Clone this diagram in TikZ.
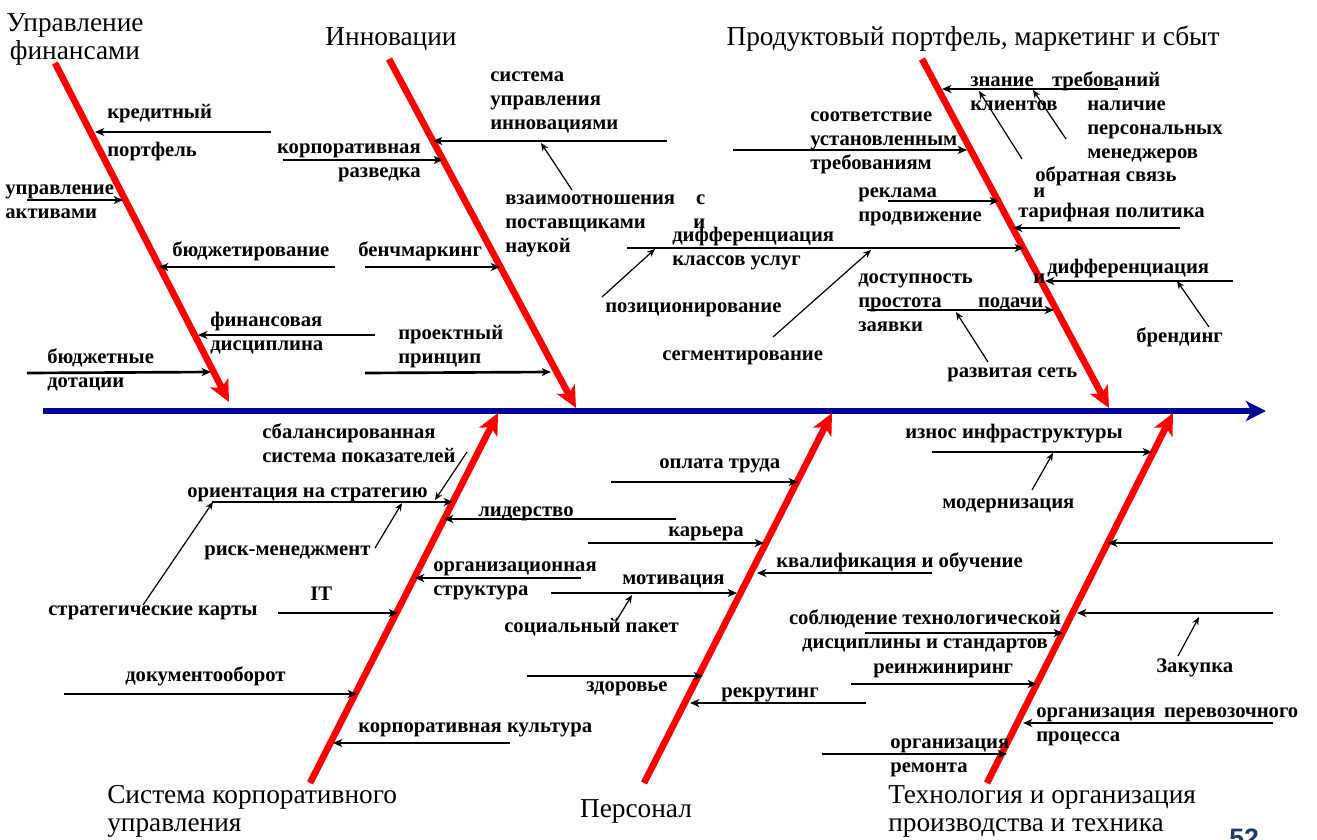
\documentclass[tikz,border=0pt]{standalone}
\usepackage{fontspec}
\setmainfont{Liberation Serif}
\setsansfont{Liberation Sans}
\usetikzlibrary{arrows.meta}
\definecolor{spineblue}{RGB}{0,0,150}
\definecolor{pagenum}{RGB}{31,56,100}
\tikzset{
  spine/.style={line width=4.5pt,spineblue,-{Stealth[length=15pt,width=15pt,inset=4pt]}},
  bone/.style={line width=5pt,red,-{Stealth[length=16pt,width=15pt,inset=4pt]}},
  cause/.style={line width=2pt,-{Stealth[length=7pt,width=6pt,inset=2pt]}},
  hint/.style={line width=0.9pt,-{Stealth[length=6pt,width=5pt,inset=2pt]}},
  lbl/.style={font=\bfseries\fontsize{15.5}{18}\selectfont,inner sep=0pt,anchor=base west,align=left},
  head/.style={font=\fontsize{20.5}{21}\selectfont,inner sep=0pt,anchor=base},
}
\begin{document}
\begin{tikzpicture}[x=0.75pt,y=-0.75pt]
\useasboundingbox (0,0) rectangle (1317,839);
% spine
\coordinate (tail) at (43,411);
\coordinate (effect) at (1266,411);
\draw[spine] (tail) -- (effect);
% bones
\coordinate (fin-s) at (55,63);    \coordinate (fin-e) at (229,402);
\coordinate (inn-s) at (389,59);   \coordinate (inn-e) at (576,408);
\coordinate (prd-s) at (922,59);   \coordinate (prd-e) at (1109,408);
\coordinate (cgv-s) at (310,783);  \coordinate (cgv-e) at (498,413);
\coordinate (prs-s) at (644,783);  \coordinate (prs-e) at (832,413);
\coordinate (tch-s) at (987,783);  \coordinate (tch-e) at (1173,413);
\foreach \b in {fin,inn,prd,cgv,prs,tch}
  \draw[bone] (\b-s) -- (\b-e);
% headings (multi-line: base = last line)
\node[head,align=center] (fin) at (75,59) {Управление\\финансами};
\node[head] (inn) at (391,45) {Инновации};
\node[head] (prd) at (973,45) {Продуктовый портфель, маркетинг и сбыт};
\node[head,anchor=base west,align=left] (cgv) at (107,831) {Система корпоративного\\управления};
\node[head] (prs) at (636,817) {Персонал};
\node[head,anchor=base west,align=left] (tch) at (888,831) {Технология и организация\\производства и техника};
\node[font=\sffamily\bfseries\fontsize{20}{20}\selectfont,pagenum,inner sep=0pt,anchor=base west] (pg) at (1229,847) {52};

% finance
\draw[cause] (271,132) coordinate (kred-s) -- (95,132) coordinate (kred-e);
\node[lbl] (kred1) at (107,118) {кредитный};
\node[lbl] (kred2) at (107,156) {портфель};
\draw[cause] (27,200) coordinate (act-s) -- (123,200) coordinate (act-e);
\node[lbl] (act) at (5,218) {управление\\активами};
\draw[cause] (335,267) coordinate (bud-s) -- (159,267) coordinate (bud-e);
\node[lbl] (bud) at (172,256) {бюджетирование};
\draw[cause] (375,335) coordinate (fdis-s) -- (198,335) coordinate (fdis-e);
\node[lbl] (fdis) at (210,350) {финансовая\\дисциплина};
\draw[cause] (27,373) coordinate (dot-s) -- (211,372) coordinate (dot-e);
\node[lbl] (dot) at (47,387) {бюджетные\\дотации};

% innovations
\draw[cause] (667,141) coordinate (sys-s) -- (433,141) coordinate (sys-e);
\node[lbl] (sys) at (490,129) {система\\управления\\инновациями};
\draw[cause] (283,160) coordinate (razv-s) -- (443,160) coordinate (razv-e);
\node[lbl,anchor=base east,align=right] (razv) at (421,177) {корпоративная\\разведка};
\draw[cause] (365,267) coordinate (bm-s) -- (500,267) coordinate (bm-e);
\node[lbl] (bm) at (358,256) {бенчмаркинг};
\draw[cause] (365,373) coordinate (prj-s) -- (551,372) coordinate (prj-e);
\node[lbl] (prj) at (398,363) {проектный\\принцип};
\node[lbl,text width=200*0.75pt] (vz) at (505,204) {взаимоотношения\hfill с\\поставщиками\hfill и\\наукой};
\draw[hint] (572,190) coordinate (vz-p) -- (541,143);

% product, marketing
\draw[cause] (1118,89) coordinate (zn-s) -- (942,89) coordinate (zn-e);
\node[lbl,text width=190*0.75pt] (zn) at (970,86) {знание\hfill требований\\клиентов};
\node[lbl] (nal) at (1087,158) {наличие\\персональных\\менеджеров};
\node[lbl] (obr) at (1035,181) {обратная связь};
\draw[hint] (1022,159) -- (979,91);
\draw[hint] (1066,139) -- (1033,90);
\draw[cause] (733,150) coordinate (soo-s) -- (967,150) coordinate (soo-e);
\node[lbl] (soo) at (810,169) {соответствие\\установленным\\требованиям};
\draw[cause] (888,201) coordinate (rek-s) -- (999,201) coordinate (rek-e);
\node[lbl] (rek) at (858,221) {реклама\\продвижение};
\node[lbl] (and1) at (1033,197) {и};
\node[lbl] (tar) at (1018,217) {тарифная политика};
\draw[cause] (1180,228) coordinate (tar-s) -- (1013,228) coordinate (tar-e);
\draw[cause] (627,248) coordinate (dif-s) -- (1024,248) coordinate (dif-e);
\node[lbl] (dif) at (672,265) {дифференциация\\классов услуг};
\node[lbl] (pos) at (605,312) {позиционирование};
\draw[hint] (602,297) -- (655,249);
\node[lbl] (seg) at (662,360) {сегментирование};
\draw[hint] (773,337) -- (871,250);
\draw[cause] (867,310) coordinate (dost-s) -- (1054,310) coordinate (dost-e);
\node[lbl,text width=185*0.75pt] (dost) at (858,283) {доступность\\простота\hfill подачи\\заявки};
\node[lbl] (set) at (947,377) {развитая сеть};
\draw[hint] (988,362) -- (956,312);
\node[lbl] (and2) at (1033,283) {и};
\node[lbl] (dif2) at (1047,273) {дифференциация};
\draw[cause] (1233,281) coordinate (dif2-s) -- (1045,281) coordinate (dif2-e);
\node[lbl] (brd) at (1136,342) {брендинг};
\draw[hint] (1209,327) -- (1177,281);

% corporate governance
\node[lbl] (bsc) at (262,462) {сбалансированная\\система показателей};
\draw[hint] (467,452) -- (435,500);
\draw[cause] (212,502) coordinate (ori-s) -- (453,502) coordinate (ori-e);
\node[lbl] (ori) at (187,497) {ориентация на стратегию};
\node[lbl] (risk) at (204,555) {риск-менеджмент};
\draw[hint] (375,548) -- (402,503);
\node[lbl] (smap) at (48,615) {стратегические карты};
\draw[hint] (143,605) -- (213,502);
\draw[cause] (676,519) coordinate (lid-s) -- (444,519) coordinate (lid-e);
\node[lbl] (lid) at (478,516) {лидерство};
\draw[cause] (581,578) coordinate (ors-s) -- (415,578) coordinate (ors-e);
\node[lbl] (ors) at (433,595) {организационная\\структура};
\draw[cause] (278,613) coordinate (it-s) -- (398,613) coordinate (it-e);
\node[lbl] (it) at (310,600) {IT};
\draw[cause] (64,694) coordinate (doc-s) -- (357,694) coordinate (doc-e);
\node[lbl] (doc) at (125,681) {документооборот};
\draw[cause] (510,743) coordinate (kul-s) -- (333,743) coordinate (kul-e);
\node[lbl] (kul) at (358,732) {корпоративная культура};

% personnel
\draw[cause] (611,482) coordinate (opl-s) -- (798,482) coordinate (opl-e);
\node[lbl] (opl) at (659,468) {оплата труда};
\draw[cause] (588,543) coordinate (kar-s) -- (764,543) coordinate (kar-e);
\node[lbl] (kar) at (668,536) {карьера};
\draw[cause] (932,573) coordinate (kva-s) -- (757,573) coordinate (kva-e);
\node[lbl] (kva) at (776,567) {квалификация и обучение};
\draw[cause] (551,593) coordinate (mot-s) -- (737,593) coordinate (mot-e);
\node[lbl] (mot) at (622,584) {мотивация};
\node[lbl] (soc) at (504,632) {социальный пакет};
\draw[hint] (615,623) -- (632,595);
\draw[cause] (527,676) coordinate (zdr-s) -- (703,676) coordinate (zdr-e);
\node[lbl] (zdr) at (586,691) {здоровье};
\draw[cause] (866,703) coordinate (rkr-s) -- (690,703) coordinate (rkr-e);
\node[lbl] (rkr) at (721,697) {рекрутинг};

% technology
\draw[cause] (932,452) coordinate (izn-s) -- (1152,452) coordinate (izn-e);
\node[lbl] (izn) at (905,438) {износ инфраструктуры};
\node[lbl] (mod) at (942,508) {модернизация};
\draw[hint] (1032,490) -- (1053,453);
\draw[cause] (1273,543) coordinate (emp-s) -- (1108,543) coordinate (emp-e);
\node[lbl,anchor=base,align=center] (tdis) at (925,648) {соблюдение технологической\\дисциплины и стандартов};
\draw[cause] (865,633) coordinate (tdis-s) -- (1063,633) coordinate (tdis-e);
\draw[cause] (1273,613) coordinate (zak-s) -- (1077,613) coordinate (zak-e);
\node[lbl] (zak) at (1156,672) {Закупка};
\draw[hint] (1178,656) -- (1199,617);
\draw[cause] (851,684) coordinate (rei-s) -- (1037,684) coordinate (rei-e);
\node[lbl] (rei) at (873,673) {реинжиниринг};
\draw[cause] (1273,723) coordinate (per-s) -- (1023,723) coordinate (per-e);
\node[lbl,text width=262*0.75pt] (per) at (1036,717) {организация\hfill перевозочного\\процесса};
\draw[cause] (822,754) coordinate (rem-s) -- (1007,754) coordinate (rem-e);
\node[lbl] (rem) at (890,772) {организация\\ремонта};
\end{tikzpicture}
\end{document}
